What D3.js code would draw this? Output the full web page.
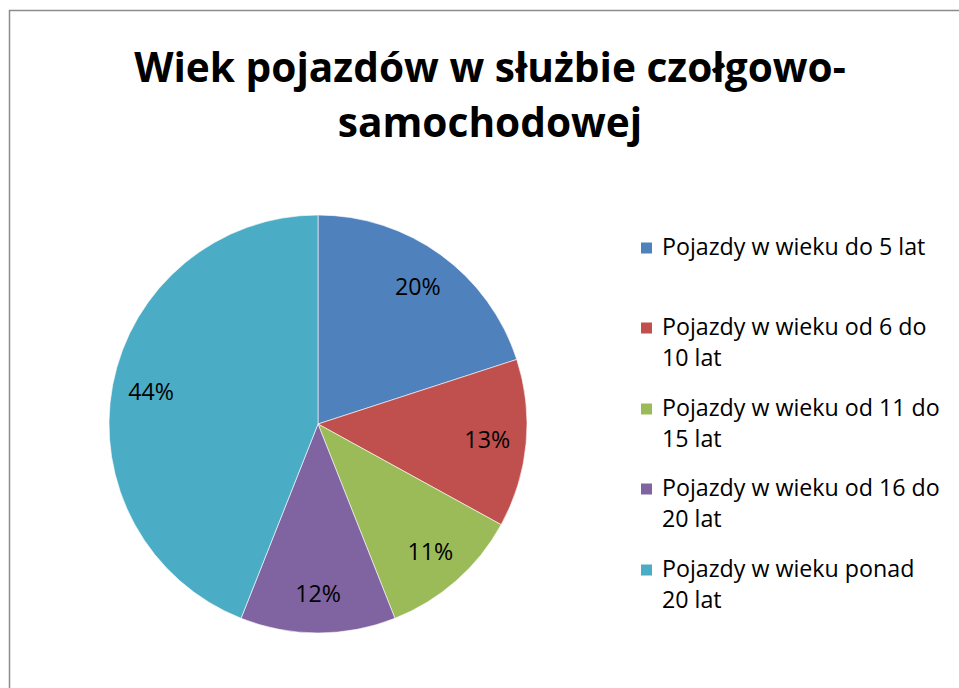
<!DOCTYPE html>
<html>
  <head>
    <meta charset="utf-8">
    <title>Wiek pojazdów</title>
    <style>
      body { margin: 0; background: #fff; }
      text { font-family: "Open Sans", "Noto Sans", sans-serif; fill: #000; }
    </style>
    <script src="https://d3js.org/d3.v7.min.js"></script>
  </head>
  <body>
    <script type="text/javascript">
      var width = 959, height = 688;

      var titleLines = ["Wiek pojazdów w służbie czołgowo-", "samochodowej"];
      var categories = [
        ["Pojazdy w wieku do 5 lat"],
        ["Pojazdy w wieku od 6 do", "10 lat"],
        ["Pojazdy w wieku od 11 do", "15 lat"],
        ["Pojazdy w wieku od 16 do", "20 lat"],
        ["Pojazdy w wieku ponad", "20 lat"]
      ];
      var values = [20, 13, 11, 12, 44];
      var colors = ["#4F81BD", "#C0504D", "#9BBB59", "#8064A2", "#4BACC6"];

      var svg = d3.select("body").append("svg")
        .attr("width", width)
        .attr("height", height);

      // chart frame (runs off the right and bottom of the picture)
      svg.append("rect")
        .attr("x", 9.5).attr("y", 10.5)
        .attr("width", 1000).attr("height", 1000)
        .attr("fill", "none")
        .attr("stroke", "#8c8c8c")
        .attr("stroke-width", 1.5);

      // shrink text to a target width
      function fitWidth(sel, target) {
        var fs = parseFloat(sel.attr("font-size"));
        var w = sel.node().getComputedTextLength();
        if (w > target) sel.attr("font-size", fs * target / w);
      }

      // title
      var title = svg.append("g");
      title.selectAll("text")
        .data(titleLines)
        .enter().append("text")
          .attr("x", 490)
          .attr("y", function(d, i) { return 82 + i * 55; })
          .attr("text-anchor", "middle")
          .attr("font-size", 43)
          .attr("font-weight", "bold")
          .text(function(d) { return d; });
      fitWidth(title.select("text"), 712);
      title.selectAll("text").attr("font-size", title.select("text").attr("font-size"));

      // pie
      var cx = 318, cy = 424, r = 209;
      var pie = d3.pie().sort(null).value(function(d) { return d; });
      var arcs = pie(values);
      var arc = d3.arc().innerRadius(0).outerRadius(r);
      var labelArc = d3.arc().innerRadius(170).outerRadius(170);

      var g = svg.append("g").attr("transform", "translate(" + cx + "," + cy + ")");
      g.selectAll("path")
        .data(arcs)
        .enter().append("path")
          .attr("d", arc)
          .attr("fill", function(d, i) { return colors[i]; })
          .attr("stroke", "#fff")
          .attr("stroke-width", 0.6);

      var total = d3.sum(values);
      g.selectAll("text.lbl")
        .data(arcs)
        .enter().append("text")
          .attr("class", "lbl")
          .attr("transform", function(d) { return "translate(" + labelArc.centroid(d) + ")"; })
          .attr("text-anchor", "middle")
          .attr("dy", "0.35em")
          .attr("font-size", 20)
          .text(function(d) { return Math.round(d.value / total * 100) + "%"; });

      // legend
      var legendY = [248, 328, 409, 489, 570];
      var legend = svg.append("g");
      var items = legend.selectAll("g")
        .data(categories)
        .enter().append("g")
          .attr("transform", function(d, i) { return "translate(641," + legendY[i] + ")"; });
      items.append("rect")
        .attr("x", 0).attr("y", -5.5)
        .attr("width", 11).attr("height", 11)
        .attr("fill", function(d, i) { return colors[i]; });
      items.each(function(d) {
        var t = d3.select(this).append("text")
          .attr("x", 21)
          .attr("y", 7)
          .attr("font-size", 21);
        t.selectAll("tspan")
          .data(d)
          .enter().append("tspan")
            .attr("x", 21)
            .attr("dy", function(s, j) { return j ? 31 : 0; })
            .text(function(s) { return s; });
      });
      // size the legend font so the longest line matches the picture
      var probe = legend.selectAll("tspan").filter(function(s) { return s === "Pojazdy w wieku od 11 do"; });
      var pw = probe.node().getComputedTextLength();
      var lfs = 21 * 278 / pw;
      legend.selectAll("text").attr("font-size", lfs);
      g.selectAll("text.lbl").attr("font-size", lfs);
    </script>
  </body>
</html>
